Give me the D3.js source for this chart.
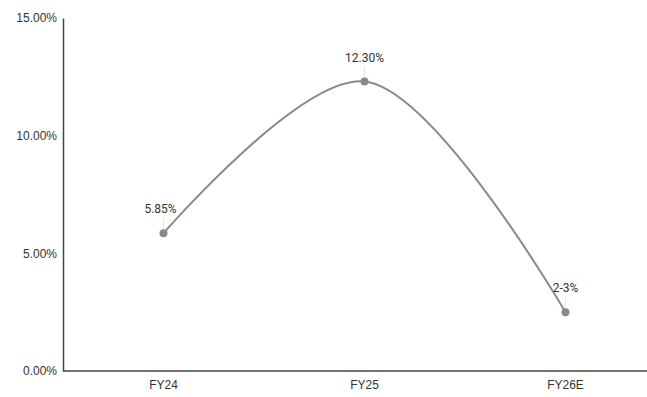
<!DOCTYPE html>
<html>
<head>
<meta charset="utf-8">
<script src="https://cdn.jsdelivr.net/npm/d3@7"></script>
<style>
  html, body { margin: 0; padding: 0; background: #fff; }
  svg { display: block; font-family: Roboto, "Noto Sans", Arial, sans-serif; }
</style>
</head>
<body>
<svg id="chart" width="647" height="397"></svg>
<script>
// Growth rate by fiscal year
const categories = ["FY24", "FY25", "FY26E"];
const values = [5.85, 12.30, 2.5];
const pointLabels = ["5.85%", "12.30%", "2-3%"];
const yTicks = [0, 5, 10, 15];

const width = 647, height = 397;
const margin = { left: 63, top: 18, bottom: 26 };
const svg = d3.select("#chart");

const x = d3.scaleBand()
  .domain(categories)
  .range([margin.left, margin.left + 603]);

const y = d3.scaleLinear()
  .domain([0, 15])
  .range([height - margin.bottom, margin.top]);

// Y axis
const yAxis = svg.append("g")
  .attr("transform", `translate(${margin.left},0)`)
  .call(d3.axisLeft(y).tickValues(yTicks).tickSize(0).tickPadding(6)
    .tickFormat(d => d.toFixed(2) + "%"));
yAxis.select(".domain").attr("stroke", "#444").attr("stroke-width", 1.5);
yAxis.selectAll("text").attr("fill", "#333").attr("font-size", 12);

// X axis
const xAxis = svg.append("g")
  .attr("transform", `translate(0,${y(0)})`)
  .call(d3.axisBottom(x).tickSize(0).tickPadding(9));
xAxis.select(".domain").remove();
xAxis.selectAll("text").attr("fill", "#333").attr("font-size", 12);
svg.append("line")
  .attr("x1", margin.left).attr("x2", width)
  .attr("y1", y(0)).attr("y2", y(0))
  .attr("stroke", "#444").attr("stroke-width", 1.5);

const pts = categories.map((c, i) => ({ c, v: values[i], label: pointLabels[i] }));
const cx = d => x(d.c) + x.bandwidth() / 2;

// Smoothed line
const line = d3.line()
  .x(cx)
  .y(d => y(d.v))
  .curve(d3.curveCatmullRom.alpha(0.5));

svg.append("path")
  .datum(pts)
  .attr("d", line)
  .attr("fill", "none")
  .attr("stroke", "#8a8a8a")
  .attr("stroke-width", 2);

// Leader lines from labels to points
svg.selectAll(".leader")
  .data(pts)
  .join("line")
  .attr("class", "leader")
  .attr("x1", cx).attr("x2", cx)
  .attr("y1", d => y(d.v) - 15)
  .attr("y2", d => y(d.v) - 4)
  .attr("stroke", "#e6e6e6")
  .attr("stroke-width", 1);

// Points
svg.selectAll(".pt")
  .data(pts)
  .join("circle")
  .attr("class", "pt")
  .attr("cx", cx)
  .attr("cy", d => y(d.v))
  .attr("r", 4)
  .attr("fill", "#8a8a8a");

// Value labels
svg.selectAll(".val")
  .data(pts)
  .join("text")
  .attr("class", "val")
  .attr("x", d => cx(d) - (d.c === "FY24" ? 3 : 0))
  .attr("y", d => y(d.v) - 20)
  .attr("text-anchor", "middle")
  .attr("fill", "#333")
  .attr("font-size", 12)
  .text(d => d.label);
</script>
</body>
</html>
